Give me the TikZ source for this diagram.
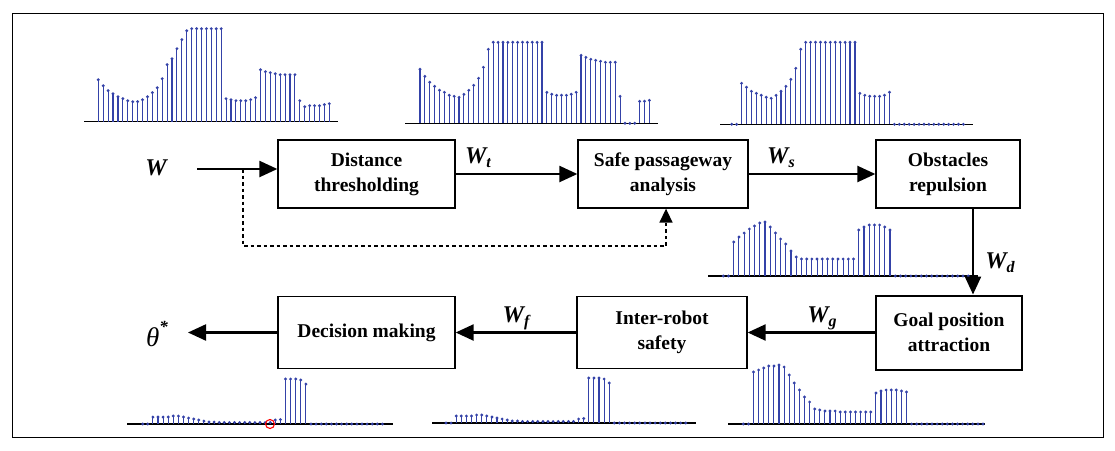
\documentclass[tikz,border=0pt]{standalone}
\usepackage{fontspec}
\setmainfont{Liberation Serif}
\usetikzlibrary{arrows.meta}
\definecolor{stemblue}{RGB}{52,66,168}

\begin{document}
\begin{tikzpicture}[x=1pt, y=-1pt,
  blk/.style={draw, line width=1.3pt, minimum width=177pt, minimum height=68pt, align=center, inner sep=2pt, font=\fontsize{19.5}{25}\selectfont\bfseries},
  flow/.style={line width=2.3pt, -{Triangle[length=18pt, width=16pt]}},
  dashflow/.style={line width=1.6pt, dash pattern=on 3.5pt off 3pt, -{Triangle[length=14pt, width=13pt]}},
  lbl/.style={font=\fontsize{24}{26}\selectfont\bfseries\itshape, inner sep=0pt},
  stem/.style={stemblue, line width=1.1pt},
  axis/.style={line width=1.1pt}]
\useasboundingbox (0,0) rectangle (1115,450);
\draw[line width=0.9pt] (12,13) rectangle (1103,437);

\foreach \xs/\dx/\yb/\xa/\xb/\vals in {
  98.3/4.915/121.7/84/338/{42,36,31,28,25,23,21,20,20,22,25,29,34,43,57,63,73,82,91,93,93,93,93,93,93,93,23,22,21,21,21,22,24,52,50,49,48,47,47,47,47,21,15,16,16,16,17,18},
  420/4.88/123.3/405/658/{54,47,41,37,33,31,28,27,26,29,33,38,45,56,74,81,81,81,81,81,81,81,81,81,81,81,31,29,28,28,28,29,31,68,66,64,63,62,61,61,61,27,0,0,0,22,22,23},
  731.7/4.93/124.3/720/973/{0,0,41,37,33,31,29,27,26,29,33,38,45,56,75,82,82,82,82,82,82,82,82,82,82,82,31,29,28,28,28,29,32,0,0,0,0,0,0,0,0,0,0,0,0,0,0,0},
  723.3/5.21/276/708/978/{0,0,34,39,43,47,50,53,54,49,43,37,32,25,19,17,17,17,17,17,17,17,17,17,17,17,46,49,51,51,51,49,46,0,0,0,0,0,0,0,0,0,0,0,0,0,0,0},
  743.3/5.1/424/728/985/{0,0,52,54,56,58,58,59,57,49,41,34,27,22,15,14,13,13,13,12,12,12,12,12,12,12,31,33,34,34,34,33,32,0,0,0,0,0,0,0,0,0,0,0,0,0,0,0},
  446/5.1/423/432/696/{0,0,7,7,7,7,8,8,7,6,5,4,3,2,2,1.5,1.5,1.5,1.5,1.5,1.5,1.5,1.5,1.5,1.5,1.5,4,4.5,45,45,45,44,40,0,0,0,0,0,0,0,0,0,0,0,0,0,0,0},
  142.7/5.1/424/127/393/{0,0,7,7,7,7,8,8,7,6,5,4,3,2,2,1.5,1.5,1.5,1.5,1.5,1.5,1.5,1.5,1.5,1.5,1.5,4,4.5,45,45,45,44,40,0,0,0,0,0,0,0,0,0,0,0,0,0,0,0}}{
  \draw[axis] (\xa,\yb) -- (\xb,\yb);
  \foreach \h [count=\i from 0] in \vals {
    \draw[stem] ({\xs+\i*\dx},\yb) -- ++(0,-\h);
    \fill[stemblue] ({\xs+\i*\dx},{\yb-\h}) circle (1.6pt);
  }
}
\draw[red, line width=1.1pt] (270,424) circle (4.5pt);

\node[blk] (dist) at (366.5,174) {Distance\\thresholding};
\node[blk, minimum width=170pt] (safe) at (663,174) {Safe passageway\\analysis};
\node[blk, minimum width=144pt] (obst) at (948,174) {Obstacles\\repulsion};
\node[blk, minimum width=146pt, minimum height=74pt, line width=2pt] (goal) at (949,332.5) {Goal position\\attraction};
\node[blk, minimum width=170pt, minimum height=72pt] (inter) at (662,332.5) {Inter-robot\\safety};
\node[blk, minimum height=72pt] (decide) at (366.5,332.5) {Decision making};

\node[lbl] (lw) at (156,168) {W};
\node[lbl] (lwt) at (478,158) {W\raisebox{-0.35ex}{\fontsize{16}{16}\selectfont t}};
\node[lbl] (lws) at (781,158) {W\raisebox{-0.35ex}{\fontsize{16}{16}\selectfont s}};
\node[lbl] (lwd) at (1000,263) {W\raisebox{-0.35ex}{\fontsize{16}{16}\selectfont d}};
\node[lbl] (lwg) at (822,318) {W\raisebox{-0.35ex}{\fontsize{16}{16}\selectfont g}};
\node[lbl] (lwf) at (516,318) {W\raisebox{-0.35ex}{\fontsize{16}{16}\selectfont f}};
\node[font=\fontsize{27}{28}\selectfont\itshape, inner sep=0pt] (ltheta) at (157,334) {θ\raisebox{1.1ex}{\fontsize{17}{17}\selectfont\bfseries *}};

\coordinate (win) at (197,169);
\coordinate (split) at (243,169);
\coordinate (dashcorner) at (666,246);
\coordinate (dtop) at (973,209);
\coordinate (thout) at (188,332.5);
\draw[flow] (win) -- (win -| dist.west);
\draw[dashflow] (split) |- (dashcorner) -- (dashcorner |- safe.south);
\draw[flow] (dist.east) -- (safe.west);
\draw[flow] (safe.east) -- (obst.west);
\draw[flow] (dtop) -- (dtop |- goal.north);
\draw[flow] (goal.west) -- (inter.east);
\draw[flow] (inter.west) -- (decide.east);
\draw[flow] (decide.west) -- (thout);
\end{tikzpicture}
\end{document}
